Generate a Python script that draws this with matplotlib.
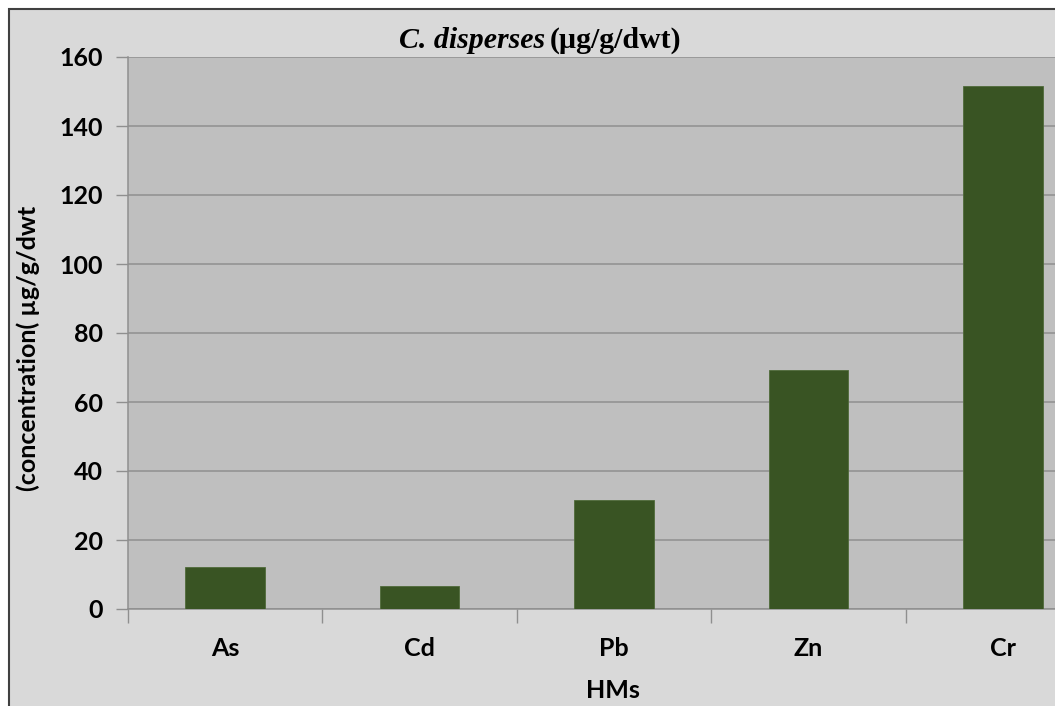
import matplotlib

matplotlib.use("Agg")

import matplotlib.pyplot as plt
from matplotlib.patches import Rectangle

metals = ["As", "Cd", "Pb", "Zn", "Cr"]
concentration = [12.2, 6.8, 31.6, 69.4, 151.5]
y_ticks = [0, 20, 40, 60, 80, 100, 120, 140, 160]

W, H = 1055, 706
fig = plt.figure(figsize=(W / 100, H / 100), dpi=100)
fig.patch.set_facecolor("white")

# chart frame (Excel style), cut off at the right and bottom
fig.patches.append(Rectangle((9 / W, -0.05), 1.2, (H - 9) / H + 0.05,
                             transform=fig.transFigure, facecolor="#d9d9d9",
                             edgecolor="#404040", linewidth=1.5, zorder=-5))

ax = fig.add_axes([128 / W, (H - 609) / H, 972 / W, 552 / H])
ax.set_facecolor("#bfbfbf")

positions = range(len(metals))
ax.bar(positions, concentration, width=0.41, color="#395423",
       edgecolor="#4f6b3a", linewidth=0.6, zorder=3)

ax.set_xlim(-0.5, len(metals) - 0.5)
ax.set_ylim(0, 160)
ax.set_yticks(y_ticks)
ax.yaxis.grid(True, color="#8f8f8f", linewidth=1.1, zorder=1)

tick_font = dict(family="Lato", weight="bold", size=18)
ax.set_yticklabels([str(t) for t in y_ticks], **tick_font)
ax.tick_params(axis="y", length=9, width=1, color="#8f8f8f", pad=9)

ax.set_xticks([p - 0.5 for p in range(len(metals) + 1)])
ax.set_xticklabels([])
ax.tick_params(axis="x", which="major", length=10, width=1, color="#8f8f8f")
ax.set_xticks(list(positions), minor=True)
ax.set_xticklabels(metals, minor=True, **tick_font)
ax.tick_params(axis="x", which="minor", length=0, pad=20)

for side in ["top", "right"]:
    ax.spines[side].set_visible(False)
for side in ["left", "bottom"]:
    ax.spines[side].set_color("#8f8f8f")
    ax.spines[side].set_linewidth(1.1)

fig.text(545 / W, 1 - 40 / H, "C. disperses", ha="right", va="center",
         family="Liberation Serif", weight="bold", style="italic", size=21.5)
fig.text(550 / W, 1 - 40 / H, "(µg/g/dwt)", ha="left", va="center",
         family="Liberation Serif", weight="bold", size=21.5)

fig.text(28 / W, 1 - 348 / H, "(concentration( µg/g/dwt", rotation=90,
         ha="center", va="center", family="Lato", weight="bold", size=18)
fig.text(613 / W, 1 - 690 / H, "HMs", ha="center", va="center",
         family="Lato", weight="bold", size=18)

fig.savefig("out.png", dpi=100)
